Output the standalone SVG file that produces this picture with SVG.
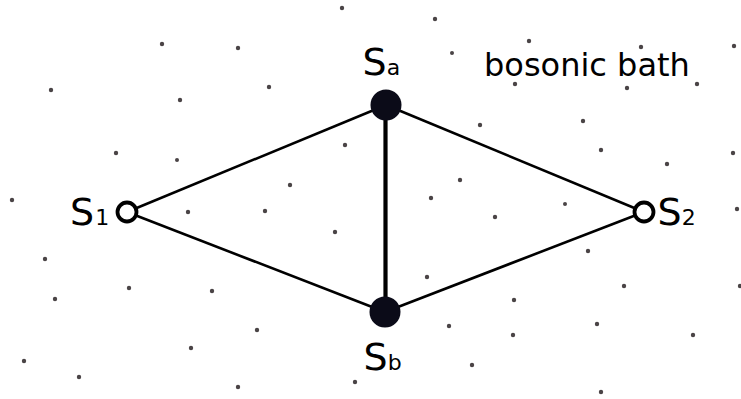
<svg xmlns="http://www.w3.org/2000/svg" width="741" height="399" viewBox="0 0 741 399">
<style>
.dot{fill:#4a4446}
.edge{stroke:#000;stroke-width:2.6;fill:none}
.thick{stroke:#000;stroke-width:4.2}
.lbl{font-family:"DejaVu Sans",sans-serif;font-size:38px;fill:#000}
.bath{font-family:"DejaVu Sans",sans-serif;font-size:32px;fill:#000}
.sub{font-size:22px}
.open{fill:#fff;stroke:#000;stroke-width:3.8}
.full{fill:#0b0b18}
</style>
<rect width="741" height="399" fill="#fff"/>
<g id="bath">
<g class="dot">
<circle cx="342" cy="8" r="2.2"/><circle cx="162" cy="44" r="2.2"/><circle cx="238" cy="48" r="2.2"/><circle cx="51" cy="90" r="2.2"/><circle cx="180" cy="100" r="2.2"/><circle cx="269" cy="87" r="2.2"/><circle cx="116" cy="153" r="2.2"/><circle cx="177" cy="160" r="2"/><circle cx="345" cy="145" r="2.2"/><circle cx="290" cy="185" r="2.2"/><circle cx="12" cy="200" r="2.2"/>
<circle cx="435" cy="19" r="2.2"/><circle cx="452" cy="53" r="2"/><circle cx="529" cy="41" r="2.2"/><circle cx="641" cy="47" r="2.2"/><circle cx="734" cy="46" r="2.2"/><circle cx="515" cy="84" r="2.2"/><circle cx="627" cy="88" r="2.2"/><circle cx="697" cy="84" r="2.2"/><circle cx="480" cy="125" r="2.2"/><circle cx="583" cy="121" r="2.2"/><circle cx="601" cy="150" r="2.2"/><circle cx="667" cy="164" r="2.2"/><circle cx="733" cy="153" r="2.2"/><circle cx="460" cy="180" r="2.2"/><circle cx="431" cy="198" r="2.2"/>
<circle cx="188" cy="212" r="2.2"/><circle cx="265" cy="211" r="2.2"/><circle cx="335" cy="232" r="2.2"/><circle cx="45" cy="259" r="2.2"/><circle cx="55" cy="299" r="2.2"/><circle cx="129" cy="288" r="2.2"/><circle cx="212" cy="291" r="2.2"/><circle cx="257" cy="330" r="2.2"/><circle cx="191" cy="348" r="2.2"/><circle cx="24" cy="361" r="2.2"/><circle cx="79" cy="377" r="2.2"/><circle cx="238" cy="387" r="2.2"/><circle cx="355" cy="382" r="2.2"/>
<circle cx="565" cy="204" r="2"/><circle cx="495" cy="217" r="2.2"/><circle cx="737" cy="209" r="2.2"/><circle cx="588" cy="251" r="2.2"/><circle cx="427" cy="277" r="2.2"/><circle cx="624" cy="286" r="2.2"/><circle cx="740" cy="286" r="2.2"/><circle cx="514" cy="300" r="2.2"/><circle cx="449" cy="326" r="2.2"/><circle cx="597" cy="324" r="2.2"/><circle cx="513" cy="335" r="2.2"/><circle cx="693" cy="335" r="2.2"/><circle cx="472" cy="365" r="2.2"/><circle cx="601" cy="392" r="2.2"/>
</g>
<text class="bath" x="484" y="76">bosonic bath</text>
</g>
<g id="connectors">
<line class="edge" x1="127" y1="212" x2="386" y2="105"/>
<line class="edge" x1="127" y1="212" x2="385" y2="312"/>
<line class="edge" x1="386" y1="105" x2="644" y2="212"/>
<line class="edge" x1="385" y1="312" x2="644" y2="212"/>
<line class="thick" x1="385.5" y1="105" x2="385.5" y2="312"/>
</g>
<g id="S1">
<circle class="open" cx="127" cy="212" r="9.5"/>
<text class="lbl" x="70" y="225">S<tspan class="sub" dx="1">1</tspan></text>
</g>
<g id="S2">
<circle class="open" cx="644" cy="212" r="9.5"/>
<text class="lbl" x="657.5" y="225">S<tspan class="sub">2</tspan></text>
</g>
<g id="Sa">
<circle class="full" cx="386" cy="105" r="15.5"/>
<text class="lbl" x="362.5" y="75">S<tspan class="sub">a</tspan></text>
</g>
<g id="Sb">
<circle class="full" cx="385" cy="312" r="15.5"/>
<text class="lbl" x="363.5" y="370">S<tspan class="sub">b</tspan></text>
</g>
</svg>
